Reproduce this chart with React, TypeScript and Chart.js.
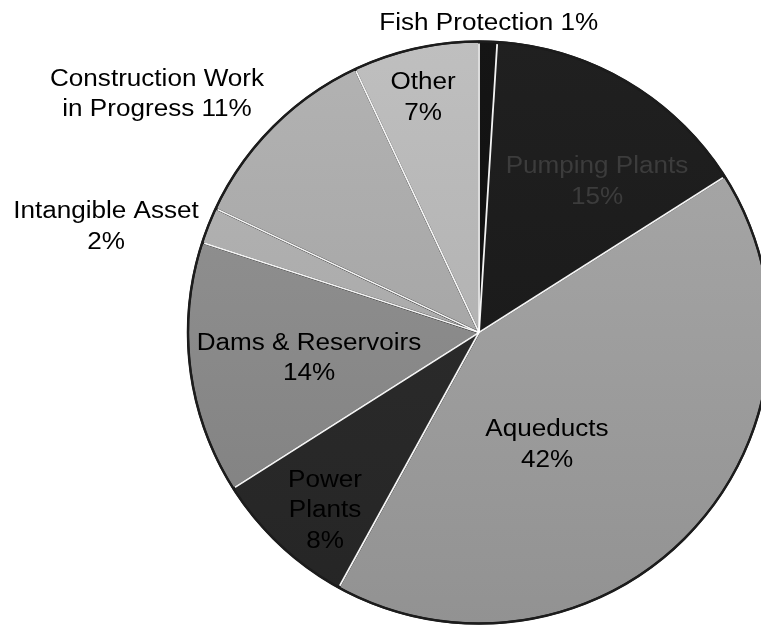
import React, { useEffect, useRef } from 'react';
import { Chart, registerables } from 'chart.js';

Chart.register(...registerables);

// ---- data ----
const categories = [
  'Fish Protection',
  'Pumping Plants',
  'Aqueducts',
  'Power Plants',
  'Dams & Reservoirs',
  'Intangible Asset',
  'Construction Work in Progress',
  'Other',
];
const values = [1, 15, 42, 8, 14, 2, 11, 7];
const nameLines = [
  ['Fish Protection'],
  ['Pumping Plants'],
  ['Aqueducts'],
  ['Power', 'Plants'],
  ['Dams & Reservoirs'],
  ['Intangible Asset'],
  ['Construction Work', 'in Progress'],
  ['Other'],
];
const percentInline = [true, false, false, false, false, false, true, false];

// ---- styles ----
const sliceGray = [16, 27, 158, 42, 138, 171, 167, 179];
const labelColors = ['#000', '#3c3c3c', '#000', '#000', '#000', '#000', '#000', '#000'];
const FONT_FAMILY = '"Liberation Sans", Arial, Helvetica, sans-serif';
const FONT_SIZE = 23.5;
const SCALE_X = 1.11;
const LINE_HEIGHT = 30.5;
const CAP = 0.716 * FONT_SIZE;
// angle offset (deg) from the slice middle and radius factor of outerRadius
const labelPlacement = [
  { da: 0, rf: 1.07 },
  { da: 7.1, rf: 0.663 },
  { da: 15.2, rf: 0.446 },
  { da: -2.1, rf: 0.805 },
  { da: -0.8, rf: 0.59 },
  { da: -5.5, rf: 1.334 },
  { da: -8.3, rf: 1.38 },
  { da: -0.7, rf: 0.834 },
];

function gray(v: number) {
  const c = Math.max(0, Math.min(255, Math.round(v)));
  return `rgb(${c},${c},${c})`;
}

function labelFor(i: number, total: number): string[] {
  const pct = Math.round((values[i] / total) * 100) + '%';
  const lines = nameLines[i].slice();
  if (percentInline[i]) {
    lines[lines.length - 1] = lines[lines.length - 1] + ' ' + pct;
  } else {
    lines.push(pct);
  }
  return lines;
}

const decorPlugin = {
  id: 'pieDecor',
  afterDatasetsDraw(chart: any) {
    const ctx = chart.ctx as CanvasRenderingContext2D;
    const meta = chart.getDatasetMeta(0);
    const total = values.reduce((a, b) => a + b, 0);
    ctx.save();
    // outer rim
    const first = meta.data[0].getProps(['x', 'y', 'outerRadius'], true);
    ctx.beginPath();
    ctx.arc(first.x, first.y, first.outerRadius, 0, Math.PI * 2);
    ctx.strokeStyle = '#1c1c1c';
    ctx.lineWidth = 2.5;
    ctx.stroke();
    // separators highlight
    meta.data.forEach((arc: any) => {
      const p = arc.getProps(['x', 'y', 'startAngle', 'outerRadius'], true);
      const r = p.outerRadius - 2;
      ctx.beginPath();
      ctx.moveTo(p.x, p.y);
      ctx.lineTo(p.x + Math.cos(p.startAngle) * r, p.y + Math.sin(p.startAngle) * r);
      ctx.strokeStyle = 'rgba(255,255,255,0.95)';
      ctx.lineWidth = 1.8;
      ctx.stroke();
    });
    // labels
    ctx.font = `${FONT_SIZE}px ${FONT_FAMILY}`;
    ctx.textAlign = 'center';
    ctx.textBaseline = 'alphabetic';
    meta.data.forEach((arc: any, i: number) => {
      const p = arc.getProps(['x', 'y', 'startAngle', 'endAngle', 'outerRadius'], true);
      const pl = labelPlacement[i];
      const a = (p.startAngle + p.endAngle) / 2 + (pl.da * Math.PI) / 180;
      const cx = p.x + Math.cos(a) * p.outerRadius * pl.rf;
      const cy = p.y + Math.sin(a) * p.outerRadius * pl.rf;
      const lines = labelFor(i, total);
      ctx.fillStyle = labelColors[i];
      lines.forEach((line, k) => {
        const mid = cy + (k - (lines.length - 1) / 2) * LINE_HEIGHT;
        ctx.save();
        ctx.translate(cx, mid + CAP / 2);
        ctx.scale(SCALE_X, 1);
        ctx.fillText(line, 0, 0);
        ctx.restore();
      });
    });
    ctx.restore();
  },
};

export default function App() {
  const ref = useRef<HTMLCanvasElement>(null);
  useEffect(() => {
    if (!ref.current) return;
    const chart = new Chart(ref.current, {
      type: 'pie',
      data: {
        labels: categories,
        datasets: [
          {
            data: values,
            backgroundColor: (c: any) => {
              const base = sliceGray[c.dataIndex] ?? 128;
              const area = c.chart.chartArea;
              if (!area) return gray(base);
              const g = c.chart.ctx.createLinearGradient(0, area.top, 0, area.bottom);
              const k = base > 80 ? 12 : 5;
              g.addColorStop(0, gray(base + k));
              g.addColorStop(1, gray(base - k));
              return g;
            },
            borderColor: '#1a1a1a',
            borderWidth: 2,
          },
        ],
      },
      options: {
        responsive: false,
        animation: false,
        layout: { padding: { left: 187, right: 29, top: 40.5, bottom: 2.5 } },
        plugins: {
          legend: { display: false },
          tooltip: { enabled: false },
        },
      },
      plugins: [decorPlugin],
    });
    return () => chart.destroy();
  }, []);
  return (
    <div
      style={{
        position: 'absolute',
        left: 0,
        top: 0,
        width: 761,
        height: 627,
        overflow: 'hidden',
        background: '#fff',
      }}
    >
      <canvas ref={ref} width={800} height={627} style={{ width: 800, height: 627, display: 'block' }} />
    </div>
  );
}
